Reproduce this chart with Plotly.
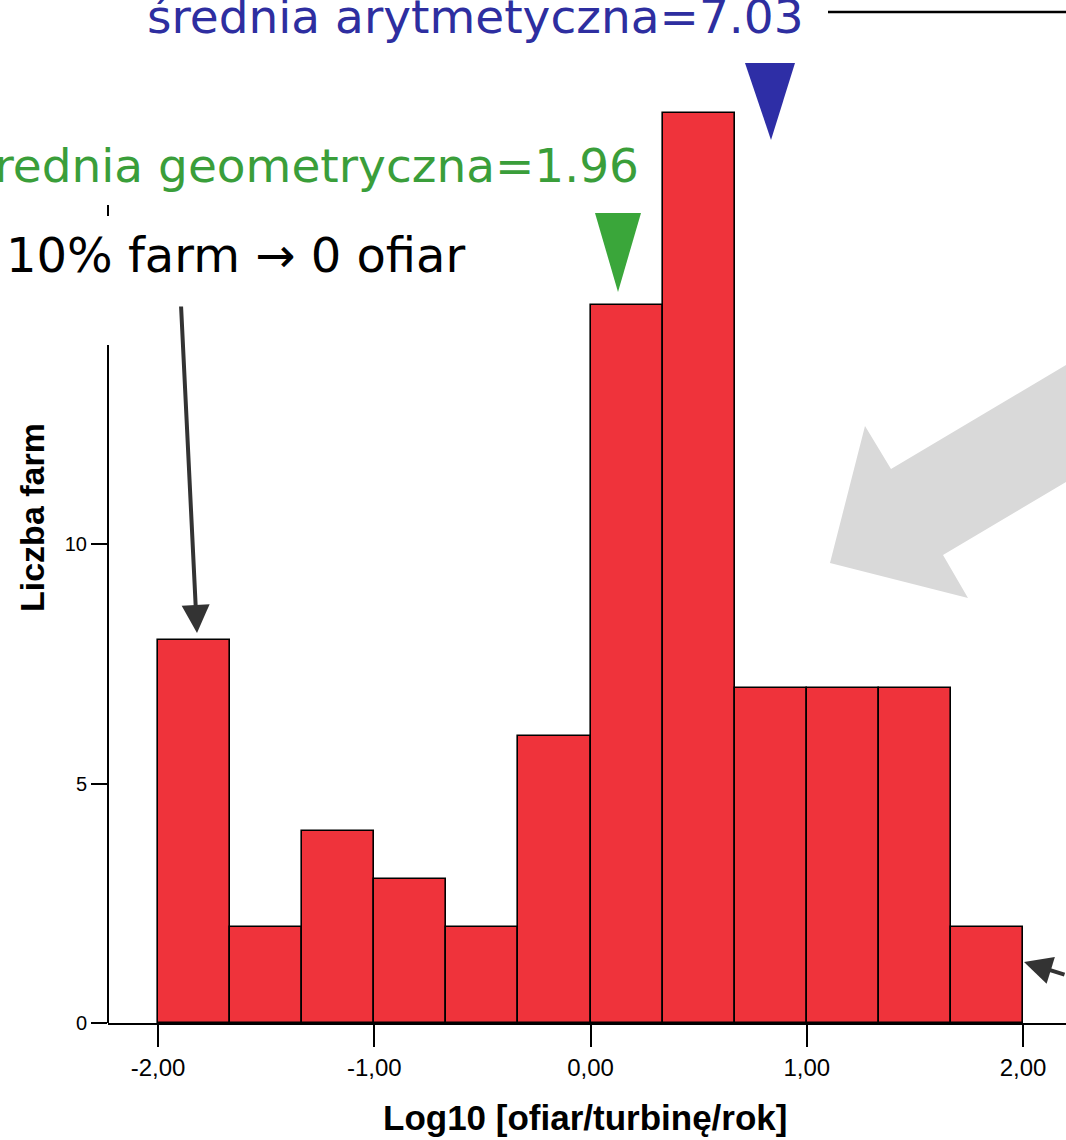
import plotly.graph_objects as go

# ---------------- data ----------------
bin_left = [-2.0, -5/3, -4/3, -1.0, -2/3, -1/3, 0.0, 1/3, 2/3, 1.0, 4/3, 5/3]
bin_width = 1/3
counts = [8, 2, 4, 3, 2, 6, 15, 19, 7, 7, 7, 2]
x_tickvals = [-2, -1, 0, 1, 2]
x_ticktext = ["-2,00", "-1,00", "0,00", "1,00", "2,00"]
y_tickvals = [0, 5, 10]
y_ticktext = ["0", "5", "10"]
mean_arith_label = "średnia arytmetyczna=7.03"
mean_geo_label = "średnia geometryczna=1.96"
zero_label = "10% farm \u2192 0 ofiar"
x_title = "Log10 [ofiar/turbinę/rok]"
y_title = "Liczba farm"

# ---------------- layout helpers (pixel -> paper) ----------------
W, H = 1066, 1140
ML, MR, MT, MB = 108, 0, 0, 117
PW, PH = W - ML - MR, H - MT - MB


def xp(px):
    return (px - ML) / PW


def yp(py):
    return (H - MB - py) / PH


x_range = [-2 - 50 / 216.25, 2 + 43 / 216.25]
y_range = [0, 1023 / 47.9]

centers = [b + bin_width / 2 for b in bin_left]

fig = go.Figure()
fig.add_trace(go.Bar(
    x=centers, y=counts, width=[bin_width] * len(counts),
    marker=dict(color="#EF333B", line=dict(color="black", width=1.6)),
    hoverinfo="x+y",
))

RED_FONT = "Liberation Sans, Arial, sans-serif"
ANN_FONT = "DejaVu Sans, sans-serif"

shapes = []
# y axis line (partially hidden by text boxes in the original)
shapes.append(dict(type="line", xref="paper", yref="paper", x0=0, x1=0,
                   y0=yp(1023), y1=yp(345), line=dict(color="black", width=2)))
shapes.append(dict(type="line", xref="paper", yref="paper", x0=0, x1=0,
                   y0=yp(216), y1=yp(205), line=dict(color="black", width=2)))
# top-right line
shapes.append(dict(type="line", xref="paper", yref="paper", x0=xp(828), x1=xp(1070),
                   y0=yp(12), y1=yp(12), line=dict(color="black", width=2.5)))


def poly(pts, color):
    d = "M " + " L ".join(f"{xp(a):.5f},{yp(b):.5f}" for a, b in pts) + " Z"
    return dict(type="path", xref="paper", yref="paper", path=d,
                fillcolor=color, line=dict(width=0), layer="above")


# big light gray arrow
shapes.append(poly([(830, 563), (865, 426), (891, 469), (1066, 365), (1080, 357),
                    (1080, 474), (1066, 482), (943, 555), (968, 598)], "#D9D9D9"))
# green and blue markers
shapes.append(poly([(595, 213), (641, 213), (618, 292)], "#3AA63A"))
shapes.append(poly([(745, 63), (795, 63), (771, 140)], "#2E2EA6"))

annotations = [
    dict(text=mean_arith_label, xref="paper", yref="paper", x=xp(806), y=yp(17),
         xanchor="right", yanchor="middle", showarrow=False,
         font=dict(family=ANN_FONT, size=47, color="#2E2EA0")),
    dict(text=mean_geo_label, xref="paper", yref="paper", x=xp(641), y=yp(166),
         xanchor="right", yanchor="middle", showarrow=False,
         font=dict(family=ANN_FONT, size=47, color="#3A9E3A")),
    dict(text=zero_label, xref="paper", yref="paper", x=xp(4), y=yp(255),
         xanchor="left", yanchor="middle", showarrow=False,
         font=dict(family=ANN_FONT, size=48, color="black")),
    # dark arrows
    dict(text="", xref="paper", yref="paper", x=xp(197), y=yp(633),
         ax=181 - 197, ay=305 - 633, showarrow=True, arrowhead=2, arrowsize=1.4,
         arrowwidth=4, arrowcolor="#333333"),
    dict(text="", xref="paper", yref="paper", x=xp(1024), y=yp(962),
         ax=70, ay=13, showarrow=True, arrowhead=2, arrowsize=1.4,
         arrowwidth=4, arrowcolor="#333333"),
    # axis titles
    dict(text="<b>" + x_title + "</b>", xref="paper", yref="paper", x=xp(585), y=yp(1117),
         xanchor="center", yanchor="middle", showarrow=False,
         font=dict(family=RED_FONT, size=35, color="black")),
    dict(text="<b>" + y_title + "</b>", xref="paper", yref="paper", x=xp(32), y=yp(518),
         xanchor="center", yanchor="middle", showarrow=False, textangle=-90,
         font=dict(family=RED_FONT, size=34, color="black")),
]

fig.update_layout(
    width=W, height=H,
    margin=dict(l=ML, r=MR, t=MT, b=MB, pad=0),
    paper_bgcolor="white", plot_bgcolor="white",
    showlegend=False, bargap=0,
    shapes=shapes, annotations=annotations,
    xaxis=dict(range=x_range, showgrid=False, zeroline=False, showline=True,
               linecolor="black", linewidth=2, ticks="outside", ticklen=22,
               tickwidth=1.5, tickcolor="black", tickvals=x_tickvals,
               ticktext=x_ticktext, ticklabelstandoff=0,
               tickfont=dict(family=RED_FONT, size=24, color="black")),
    yaxis=dict(range=y_range, showgrid=False, zeroline=False, showline=False,
               ticks="outside", ticklen=16, tickwidth=1.5, tickcolor="black",
               tickvals=y_tickvals, ticktext=y_ticktext,
               tickfont=dict(family=RED_FONT, size=20, color="black")),
)

fig.write_html("out.html")
